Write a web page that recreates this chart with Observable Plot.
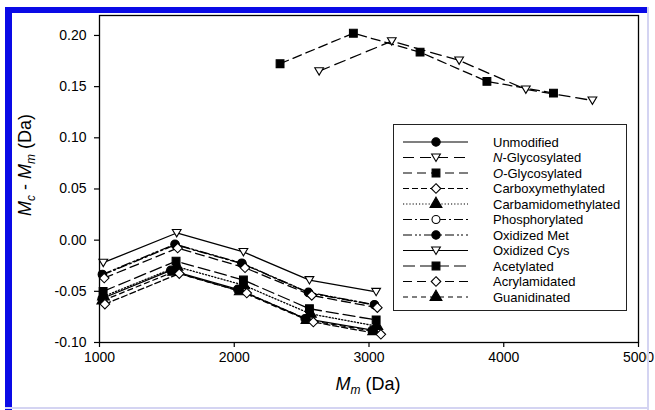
<!DOCTYPE html>
<html><head><meta charset="utf-8">
<script src="https://cdn.jsdelivr.net/npm/d3@7"></script>
<script src="https://cdn.jsdelivr.net/npm/@observablehq/plot@0.6"></script>
<style>
body{margin:0;background:#fff;}
#wrap{position:relative;width:655px;height:410px;overflow:hidden;font-family:"Liberation Sans",Arial,sans-serif;}
#wrap svg{position:absolute;left:0;top:0;}
.bar{position:absolute;}
</style></head><body>
<div id="wrap"></div>
<script>
// ---- data ----
const seriesNames = ["Unmodified","N-Glycosylated","O-Glycosylated","Carboxymethylated","Carbamidomethylated","Phosphorylated","Oxidized Met","Oxidized Cys","Acetylated","Acrylamidated","Guanidinated"];
const massUnmodified = [1020, 1529, 2026, 2526, 3025];
const diffUnmodified = [-0.057, -0.0295, -0.048, -0.0767, -0.088];
const massNGlyco = [2630, 3169, 3669, 4164, 4658];
const diffNGlyco = [0.1651, 0.1944, 0.1756, 0.1473, 0.1365];
const massOGlyco = [2340, 2884, 3379, 3875, 4369];
const diffOGlyco = [0.1724, 0.2022, 0.1837, 0.1551, 0.1437];
const massCarboxy = [1040, 1592, 2093, 2587, 3088];
const diffCarboxy = [-0.0625, -0.0327, -0.0517, -0.080, -0.092];
const massCarbamido = [1030, 1575, 2070, 2565, 3058];
const diffCarbamido = [-0.055, -0.026, -0.044, -0.072, -0.084];
const massPhospho = [1024, 1563, 2059, 2553, 3043];
const diffPhospho = [-0.034, -0.0045, -0.023, -0.0515, -0.0635];
const massOxMet = [1021, 1560, 2056, 2550, 3040];
const diffOxMet = [-0.0335, -0.004, -0.0225, -0.051, -0.063];
const massOxCys = [1028, 1573, 2068, 2558, 3053];
const diffOxCys = [-0.022, 0.007, -0.0115, -0.039, -0.0505];
const massAcetyl = [1027, 1568, 2068, 2558, 3053];
const diffAcetyl = [-0.050, -0.0205, -0.039, -0.067, -0.078];
const massAcryl = [1035, 1580, 2080, 2575, 3062];
const diffAcryl = [-0.037, -0.0077, -0.027, -0.054, -0.066];
const massGuan = [1025, 1550, 2045, 2540, 3035];
const diffGuan = [-0.059, -0.031, -0.050, -0.078, -0.089];
const xTicks = [1000, 2000, 3000, 4000, 5000];
const yTicks = [-0.10, -0.05, 0, 0.05, 0.10, 0.15, 0.20];

// ---- styles ----
const triDown = {
  draw(ctx, size) {
    const k = Math.sqrt(size / Math.PI);
    ctx.moveTo(-k * 0.95, -k * 0.75);
    ctx.lineTo(k * 0.95, -k * 0.75);
    ctx.lineTo(0, k * 0.85);
    ctx.closePath();
  }
};
const symMap = {circle: d3.symbolCircle, square: d3.symbolSquare, diamond: d3.symbolDiamond2, triUp: d3.symbolTriangle, triDown: triDown};
const plotSym = {circle: "circle", square: "square", diamond: "diamond2", triUp: "triangle", triDown: triDown};

const styles = [
  {mass: massUnmodified, diff: diffUnmodified, sym: "circle", filled: true, dash: null, r: 4.2},
  {mass: massNGlyco, diff: diffNGlyco, sym: "triDown", filled: false, dash: "11,6", r: 4.6},
  {mass: massOGlyco, diff: diffOGlyco, sym: "square", filled: true, dash: "9,5", r: 4.4},
  {mass: massCarboxy, diff: diffCarboxy, sym: "diamond", filled: false, dash: "6,3", r: 4.3},
  {mass: massCarbamido, diff: diffCarbamido, sym: "triUp", filled: true, dash: "1.2,2", r: 4.4},
  {mass: massPhospho, diff: diffPhospho, sym: "circle", filled: false, dash: "9,3,2,3", r: 4.0},
  {mass: massOxMet, diff: diffOxMet, sym: "circle", filled: true, dash: "9,3,2,2,2,3", r: 4.2},
  {mass: massOxCys, diff: diffOxCys, sym: "triDown", filled: false, dash: null, r: 4.6},
  {mass: massAcetyl, diff: diffAcetyl, sym: "square", filled: true, dash: "12,5", r: 4.4},
  {mass: massAcryl, diff: diffAcryl, sym: "diamond", filled: false, dash: "9,5", r: 4.3},
  {mass: massGuan, diff: diffGuan, sym: "triUp", filled: true, dash: "5,4", r: 4.4}
];
const drawOrder = [1, 2, 7, 5, 6, 9, 8, 4, 0, 10, 3];

const tables = styles.map((s, i) => s.mass.map((m, j) => ({series: seriesNames[i], mass: m, diff: s.diff[j]})));

const marks = [];
for (const i of drawOrder) {
  const s = styles[i];
  marks.push(Plot.line(tables[i], {x: "mass", y: "diff", stroke: "black", strokeWidth: 1.3, strokeDasharray: s.dash || undefined}));
}
for (const i of drawOrder) {
  const s = styles[i];
  marks.push(Plot.dot(tables[i], {x: "mass", y: "diff", symbol: plotSym[s.sym], r: s.r,
    fill: s.filled ? "black" : "white", stroke: "black", strokeWidth: 1.1}));
}

const plot = Plot.plot({
  width: 655, height: 410,
  marginLeft: 99, marginRight: 17, marginTop: 15, marginBottom: 68,
  style: {fontFamily: "'Liberation Sans', Arial, sans-serif", fontSize: "14px", background: "transparent", color: "black", overflow: "visible"},
  x: {domain: [1000, 5000]},
  y: {domain: [-0.10, 0.2195]},
  marks: [
    Plot.axisX({ticks: xTicks, tickSize: 5, tickPadding: 5, tickFormat: d => String(d), label: null, fontSize: 14, strokeWidth: 1.2}),
    Plot.axisY({ticks: yTicks, tickSize: 5, tickPadding: 8, tickFormat: d => d.toFixed(2), label: null, fontSize: 14, strokeWidth: 1.2}),
    ...marks,
    Plot.frame({stroke: "black", strokeWidth: 1.3})
  ]
});

const wrap = document.getElementById("wrap");
wrap.appendChild(plot);

const svg = d3.select(plot);
// axis titles
const yl = svg.append("text").attr("transform", "translate(31,165) rotate(-90)")
  .attr("text-anchor", "middle").attr("font-size", 18).attr("fill", "black")
  .attr("font-family", "'Liberation Sans', Arial, sans-serif");
yl.append("tspan").attr("font-style", "italic").text("M");
yl.append("tspan").attr("font-style", "italic").attr("font-size", 12).attr("dy", 4).text("c");
yl.append("tspan").attr("dy", -4).text(" - ");
yl.append("tspan").attr("font-style", "italic").text("M");
yl.append("tspan").attr("font-style", "italic").attr("font-size", 12).attr("dy", 4).text("m");
yl.append("tspan").attr("dy", -4).text(" (Da)");

const xl = svg.append("text").attr("transform", "translate(368,390)")
  .attr("text-anchor", "middle").attr("font-size", 18).attr("fill", "black")
  .attr("font-family", "'Liberation Sans', Arial, sans-serif");
xl.append("tspan").attr("font-style", "italic").text("M");
xl.append("tspan").attr("font-style", "italic").attr("font-size", 12).attr("dy", 4).text("m");
xl.append("tspan").attr("dy", -4).text(" (Da)");

// legend
const lg = svg.append("g").attr("font-family", "'Liberation Sans', Arial, sans-serif").attr("font-size", 13).attr("text-anchor", "start");
lg.append("rect").attr("x", 393.5).attr("y", 124.5).attr("width", 233).attr("height", 186)
  .attr("fill", "white").attr("stroke", "#222").attr("stroke-width", 1);
seriesNames.forEach((name, i) => {
  const s = styles[i];
  const y = 142 + i * 15.5;
  lg.append("line").attr("x1", 403).attr("x2", 468).attr("y1", y).attr("y2", y)
    .attr("stroke", "black").attr("stroke-width", 1.2).attr("stroke-dasharray", s.dash || null);
  lg.append("path").attr("transform", `translate(436,${y})`)
    .attr("d", d3.symbol(symMap[s.sym], Math.PI * s.r * s.r)())
    .attr("fill", s.filled ? "black" : "white").attr("stroke", "black").attr("stroke-width", 1.1);
  const t = lg.append("text").attr("x", 493).attr("y", y + 4.5).attr("fill", "black").attr("text-anchor", "start");
  if (name.startsWith("N-") || name.startsWith("O-")) {
    t.append("tspan").attr("font-style", "italic").text(name[0]);
    t.append("tspan").text(name.slice(1));
  } else t.text(name);
});

// border bars
function bar(l, t, w, h, c) {
  const d = document.createElement("div");
  d.className = "bar";
  Object.assign(d.style, {left: l + "px", top: t + "px", width: w + "px", height: h + "px", background: c});
  wrap.appendChild(d);
}
bar(5, 7, 643, 6, "#0a0ae6");
bar(5, 7, 7, 403, "#0a0ae6");
bar(647, 7, 2, 403, "#d4d4f2");
bar(5, 407, 644, 2, "#d4d4f2");
</script>
</body></html>
